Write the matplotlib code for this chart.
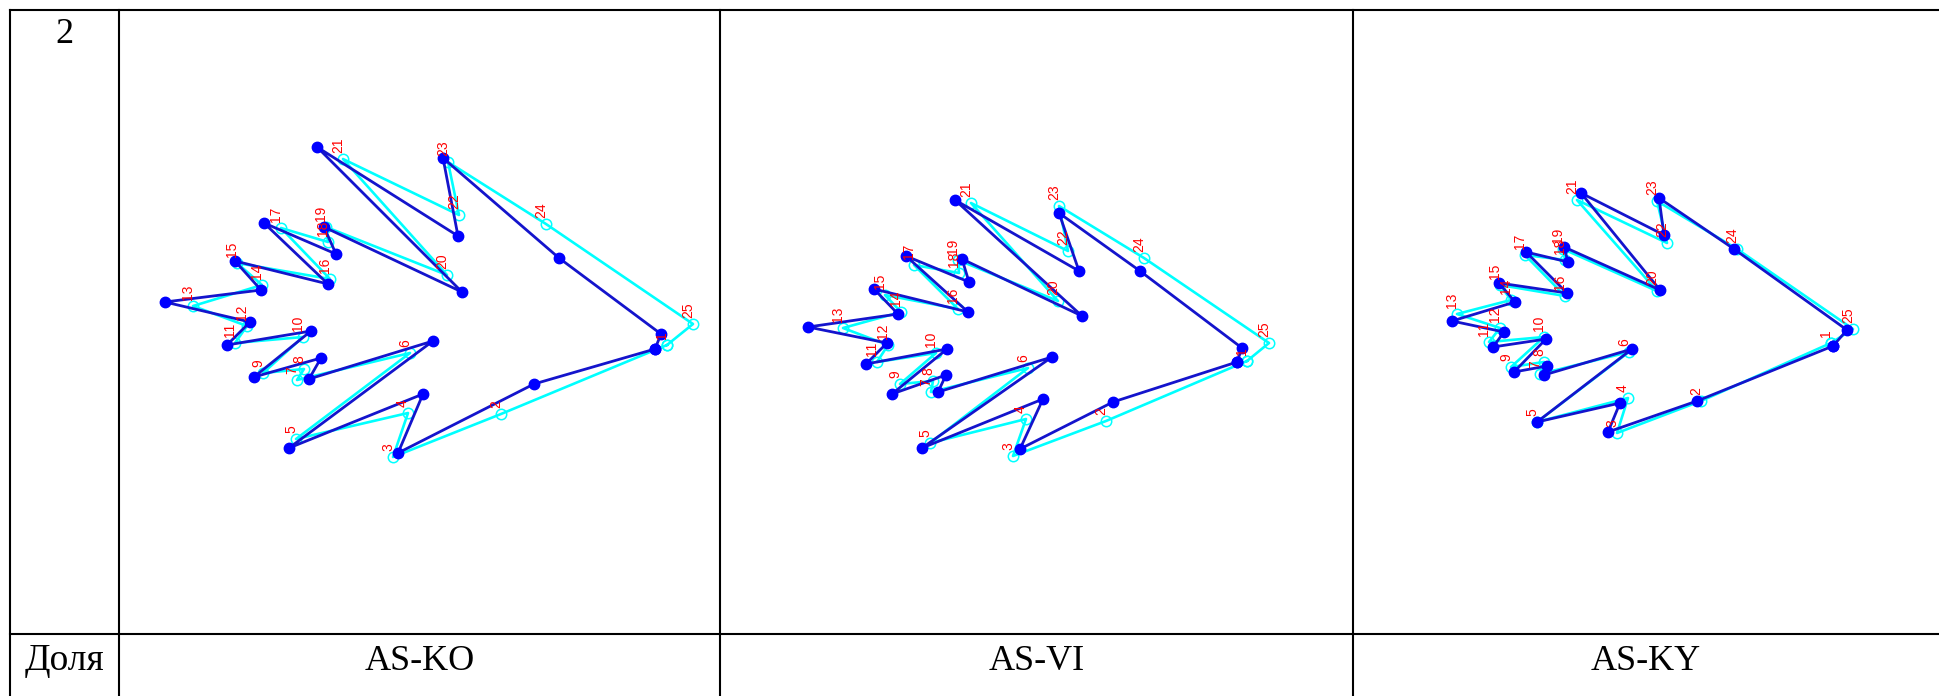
import matplotlib
matplotlib.use("Agg")
import matplotlib.pyplot as plt

W, H = 1939, 696
DPI = 100

# landmark coordinates (x, y) per cell, y measured downward from the cell top
ko_blue_x = [536, 415, 279, 304, 170, 314, 190, 202, 135, 192, 108, 131, 46,
             142, 116, 209, 145, 217, 205, 343, 198, 339, 324, 440, 542]
ko_blue_y = [339, 374, 443, 384, 438, 331, 369, 348, 367, 321, 335, 312, 292,
             280, 251, 274, 213, 244, 217, 282, 137, 226, 148, 248, 324]
ko_cyan_x = [548, 382, 274, 289, 177, 291, 178, 185, 144, 184, 116, 128, 74,
             143, 118, 211, 162, 209, 207, 328, 224, 340, 329, 427, 574]
ko_cyan_y = [335, 404, 447, 403, 429, 343, 370, 359, 363, 327, 333, 316, 296,
             275, 253, 269, 218, 232, 217, 265, 149, 205, 152, 214, 314]

vi_blue_x = [517, 393, 300, 323, 202, 332, 218, 226, 172, 227, 146, 167, 88,
             178, 154, 248, 186, 249, 242, 362, 235, 359, 339, 420, 522]
vi_blue_y = [352, 392, 439, 389, 438, 347, 382, 365, 384, 339, 354, 333, 317,
             304, 279, 302, 246, 272, 249, 306, 190, 261, 203, 261, 338]
vi_cyan_x = [527, 386, 293, 306, 210, 308, 211, 213, 180, 216, 157, 168, 123,
             181, 165, 238, 194, 239, 238, 338, 251, 348, 339, 424, 549]
vi_cyan_y = [351, 411, 446, 409, 433, 358, 382, 371, 374, 343, 352, 335, 318,
             302, 285, 299, 255, 263, 250, 291, 193, 241, 196, 248, 333]

ky_blue_x = [480, 344, 255, 267, 184, 279, 191, 194, 161, 193, 140, 151, 99,
             162, 146, 214, 173, 215, 211, 307, 228, 311, 306, 381, 494]
ky_blue_y = [336, 391, 422, 393, 412, 339, 365, 356, 362, 329, 337, 322, 311,
             292, 273, 283, 242, 252, 237, 280, 183, 225, 188, 239, 320]
ky_cyan_x = [478, 348, 264, 275, 184, 276, 187, 191, 158, 191, 136, 147, 104,
             158, 147, 212, 172, 212, 210, 304, 224, 314, 304, 384, 500]
ky_cyan_y = [333, 391, 423, 388, 412, 342, 364, 352, 357, 327, 332, 318, 304,
             290, 275, 286, 245, 250, 239, 281, 190, 233, 191, 239, 319]

row_label = "2"
footer_label = "Доля"
pair_names = ["AS-KO", "AS-VI", "AS-KY"]

panels = [
    (ko_blue_x, ko_blue_y, ko_cyan_x, ko_cyan_y),
    (vi_blue_x, vi_blue_y, vi_cyan_x, vi_cyan_y),
    (ky_blue_x, ky_blue_y, ky_cyan_x, ky_cyan_y),
]

# table grid (pixels)
col_edges = [10, 119, 720, 1353, W]
top, row_split = 10, 634

fig = plt.figure(figsize=(W / DPI, H / DPI), dpi=DPI)
fig.patch.set_facecolor("white")

tab = fig.add_axes([0, 0, 1, 1])
tab.set_xlim(0, W)
tab.set_ylim(H, 0)
tab.axis("off")

lw = 1.5
tab.plot([col_edges[0], W], [top, top], color="black", lw=lw)
tab.plot([col_edges[0], W], [row_split, row_split], color="black", lw=lw)
for x in col_edges[:-1]:
    tab.plot([x, x], [top, H], color="black", lw=lw)

serif = "Liberation Serif"
tab.text((col_edges[0] + col_edges[1]) / 2, 43, row_label, ha="center",
         va="baseline", fontsize=26, family=serif)
tab.text((col_edges[0] + col_edges[1]) / 2, 670, footer_label, ha="center",
         va="baseline", fontsize=27, family=serif)
for i, name in enumerate(pair_names):
    cx = (col_edges[i + 1] + col_edges[i + 2]) / 2
    tab.text(cx, 670, name, ha="center", va="baseline", fontsize=26, family=serif)

# one axes per cell with the landmark plots
for i, (bx, by, cx_, cy_) in enumerate(panels):
    x0, x1 = col_edges[i + 1], col_edges[i + 2]
    w = x1 - x0
    h = row_split - top
    ax = fig.add_axes([x0 / W, 1 - row_split / H, w / W, h / H])
    ax.set_xlim(0, w)
    ax.set_ylim(h, 0)
    ax.axis("off")

    ax.plot(cx_ + cx_[:1], cy_ + cy_[:1], color="#00ffff", lw=1.9,
            marker="o", ms=7.5, mfc="none", mec="#00ffff", mew=1.1, zorder=2)
    ax.plot(bx + bx[:1], by + by[:1], color="#1414cc", lw=2.0,
            marker="o", ms=7.5, mfc="#0000ff", mec="#0000ff", zorder=3)

    for k, (px, py) in enumerate(zip(cx_, cy_)):
        ax.annotate(str(k + 1), (px, py), xytext=(-3.6, 4), textcoords="offset points",
                    rotation=90, ha="center", va="bottom", color="red",
                    fontsize=10, family="Liberation Sans", zorder=4)

fig.savefig("out.png", dpi=DPI)
